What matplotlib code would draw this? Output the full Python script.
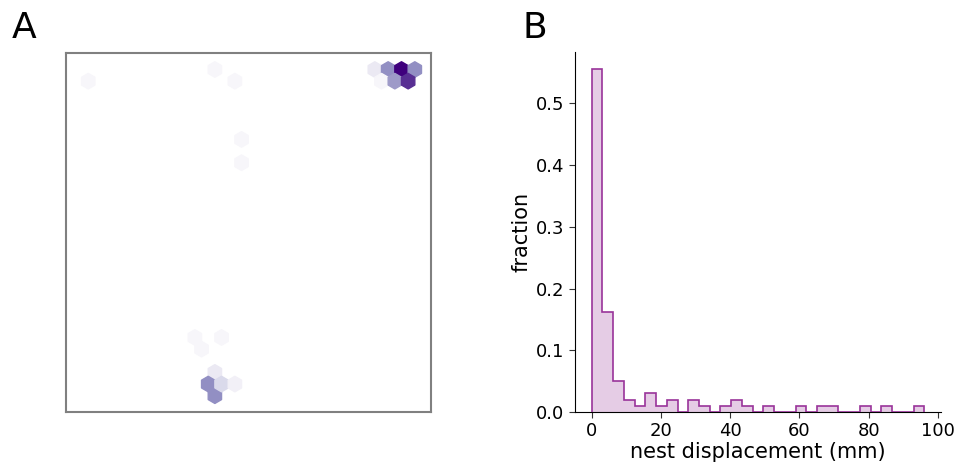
import numpy as np
import matplotlib
matplotlib.use("Agg")
import matplotlib.pyplot as plt

# ---------------- data ----------------
# Panel A: nest locations (arena units) and number of nests at each location
nest_x = [84.62, 88.27, 91.92, 95.57, 86.44, 90.09, 93.75,
          40.79, 46.27, 6.10, 48.10, 48.10,
          35.31, 42.62, 37.14, 40.79, 38.97, 42.62, 46.27, 40.79]
nest_y = [93.84, 93.84, 93.84, 93.84, 90.65, 90.65, 90.65,
          93.84, 90.65, 90.65, 74.69, 68.30,
          20.42, 20.42, 17.23, 10.85, 7.66, 7.66, 7.66, 4.46]
nest_n = [3, 11, 20, 11, 1, 10, 17,
          1, 1, 1, 1, 1,
          1, 1, 1, 3, 11, 5, 2, 11]

# Panel B: histogram of nest displacement (mm)
disp_max = 96.1
n_bins = 31
disp_counts = [55, 16, 5, 2, 1, 3, 1, 2, 0, 2, 1, 0, 1, 2, 1, 0,
               1, 0, 0, 1, 0, 1, 1, 0, 0, 1, 0, 1, 0, 0, 1]
x_ticks = [0, 20, 40, 60, 80, 100]
y_ticks = [0.0, 0.1, 0.2, 0.3, 0.4, 0.5]

# ---------------- figure ----------------
W, H = 961, 465
fig = plt.figure(figsize=(W / 100, H / 100), dpi=100)

# Panel A
axA = fig.add_axes([66 / W, (H - 412) / H, 365 / W, 359 / H])
axA.hexbin(nest_x, nest_y, C=nest_n, reduce_C_function=np.sum,
           gridsize=(28, 16), extent=(-3.036, 99.22, -1.92, 100.22),
           cmap="Purples", vmin=0, vmax=max(nest_n))
axA.set_xlim(0, 100)
axA.set_ylim(0, 98.36)
axA.set_xticks([])
axA.set_yticks([])
for s in axA.spines.values():
    s.set_color("#808080")
    s.set_linewidth(1.5)

# Panel B
axB = fig.add_axes([575 / W, (H - 412) / H, 366 / W, 360 / H])
edges = np.linspace(0, disp_max, n_bins + 1)
counts = np.array(disp_counts, dtype=float)
frac = counts / counts.sum()
axB.stairs(frac, edges, fill=True, color="#800080", alpha=0.2, linewidth=0)
axB.stairs(frac, edges, baseline=0, color="#99339a", linewidth=1.2, zorder=3)
axB.set_xlim(-0.05 * disp_max, 1.05 * disp_max)
axB.set_ylim(0, frac.max() * 1.05)
axB.set_xticks(x_ticks)
axB.set_yticks(y_ticks)
axB.set_yticklabels([f"{v:.1f}" for v in y_ticks])
axB.tick_params(labelsize=13, length=4, color="#333333")
axB.spines["top"].set_visible(False)
axB.spines["right"].set_visible(False)
axB.set_xlabel("nest displacement (mm)", fontsize=15, labelpad=1)
axB.set_ylabel("fraction", fontsize=15, labelpad=3)

fig.text(12 / W, 1 - 38 / H, "A", fontsize=26)
fig.text(523 / W, 1 - 38 / H, "B", fontsize=26)

fig.savefig("out.png", dpi=100)
